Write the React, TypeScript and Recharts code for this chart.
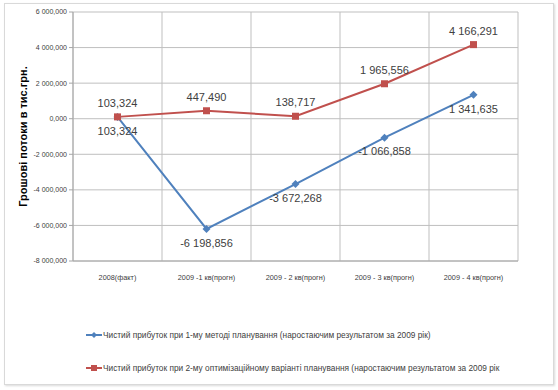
import { LineChart, Line, XAxis, YAxis, CartesianGrid, LabelList } from "recharts"

const periods = ["2008(факт)", "2009 -1 кв(прогн)", "2009 - 2 кв(прогн)", "2009 - 3 кв(прогн)", "2009 - 4 кв(прогн)"]
const method1 = [103.324, -6198.856, -3672.268, -1066.858, 1341.635]
const method2 = [103.324, 447.49, 138.717, 1965.556, 4166.291]
const yTicks = [-8000, -6000, -4000, -2000, 0, 2000, 4000, 6000]
const seriesNames = [
  "Чистий прибуток при 1-му методі планування (наростаючим результатом за 2009 рік)",
  "Чистий прибуток при 2-му оптимізаційному варіанті планування (наростаючим результатом за 2009 рік",
]
const yTitle = "Грошові потоки  в  тис.грн."

const data = periods.map((p, i) => ({ period: p, m1: method1[i], m2: method2[i] }))

const BLUE = "#4F81BD"
const RED = "#C0504D"
const FONT = "'Liberation Sans', Arial, sans-serif"

// 6 000,000 style
const fmt = (v: number) => {
  const neg = v < 0
  const [int, dec] = Math.abs(v).toFixed(3).split(".")
  const grouped = int.replace(/\B(?=(\d{3})+(?!\d))/g, " ")
  return (neg ? "-" : "") + grouped + "," + dec
}

const Diamond = (props: any) => {
  const { cx, cy } = props
  if (cx == null || cy == null) return null
  return <path d={`M${cx},${cy - 4} L${cx + 4},${cy} L${cx},${cy + 4} L${cx - 4},${cy} Z`} fill={BLUE} />
}

const Square = (props: any) => {
  const { cx, cy } = props
  if (cx == null || cy == null) return null
  return <rect x={cx - 3.5} y={cy - 3.5} width={7} height={7} fill={RED} />
}

export default function App() {
  return (
    <div style={{ position: "fixed", left: 0, top: 0, width: 558, height: 390, background: "#fff", fontFamily: FONT }}>
      <div style={{
        position: "absolute", left: 4, top: 3, width: 548, height: 380,
        border: "1px solid #D9D9D9", boxShadow: "1px 1px 2px rgba(0,0,0,0.15)",
      }} />
      <LineChart width={558} height={390} data={data} margin={{ top: 12, right: 40, bottom: 109, left: 0 }}>
        <CartesianGrid
          stroke="#BFBFBF"
          verticalCoordinatesGenerator={({ offset }: any) =>
            periods.map((_, i) => offset.left + (i * offset.width) / periods.length).concat(offset.left + offset.width)
          }
        />
        <XAxis
          dataKey="period"
          scale="band"
          axisLine={{ stroke: "#A6A6A6" }}
          tickLine={false}
          height={20}
          tick={{ fill: "#404040", fontSize: 7.3, fontFamily: FONT }}
          dy={6}
          interval={0}
        />
        <YAxis
          domain={[-8000, 6000]}
          ticks={yTicks}
          width={73}
          tickFormatter={fmt}
          axisLine={{ stroke: "#A6A6A6" }}
          tickLine={{ stroke: "#A6A6A6" }}
          tickSize={4}
          tick={{ fill: "#404040", fontSize: 7, fontFamily: FONT }}
          label={{ value: yTitle, angle: -90, position: "center", dx: -13, style: { fontSize: 11, fontWeight: "bold", fill: "#000", fontFamily: FONT, whiteSpace: "pre" } }}
        />
        <Line dataKey="m1" stroke={BLUE} strokeWidth={2} dot={<Diamond />} isAnimationActive={false}>
          <LabelList dataKey="m1" position="bottom" offset={10} formatter={(v: any) => fmt(v)} style={{ fill: "#404040", fontSize: 11, fontFamily: FONT }} />
        </Line>
        <Line dataKey="m2" stroke={RED} strokeWidth={2} dot={<Square />} isAnimationActive={false}>
          <LabelList dataKey="m2" position="top" offset={10} formatter={(v: any) => fmt(v)} style={{ fill: "#404040", fontSize: 11, fontFamily: FONT }} />
        </Line>
      </LineChart>
      <div style={{ position: "absolute", left: 86, top: 329, fontSize: 8.3, color: "#404040", lineHeight: "12px" }}>
        {seriesNames.map((name, i) => (
          <div key={name} style={{ display: "flex", alignItems: "center", height: 12, marginBottom: 21 }}>
            <svg width={16} height={10} style={{ marginRight: 1 }}>
              <line x1={0} y1={5} x2={16} y2={5} stroke={i === 0 ? BLUE : RED} strokeWidth={2} />
              {i === 0
                ? <path d="M8,2 L11,5 L8,8 L5,5 Z" fill={BLUE} />
                : <rect x={5} y={2} width={6} height={6} fill={RED} />}
            </svg>
            <span>{name}</span>
          </div>
        ))}
      </div>
    </div>
  )
}
